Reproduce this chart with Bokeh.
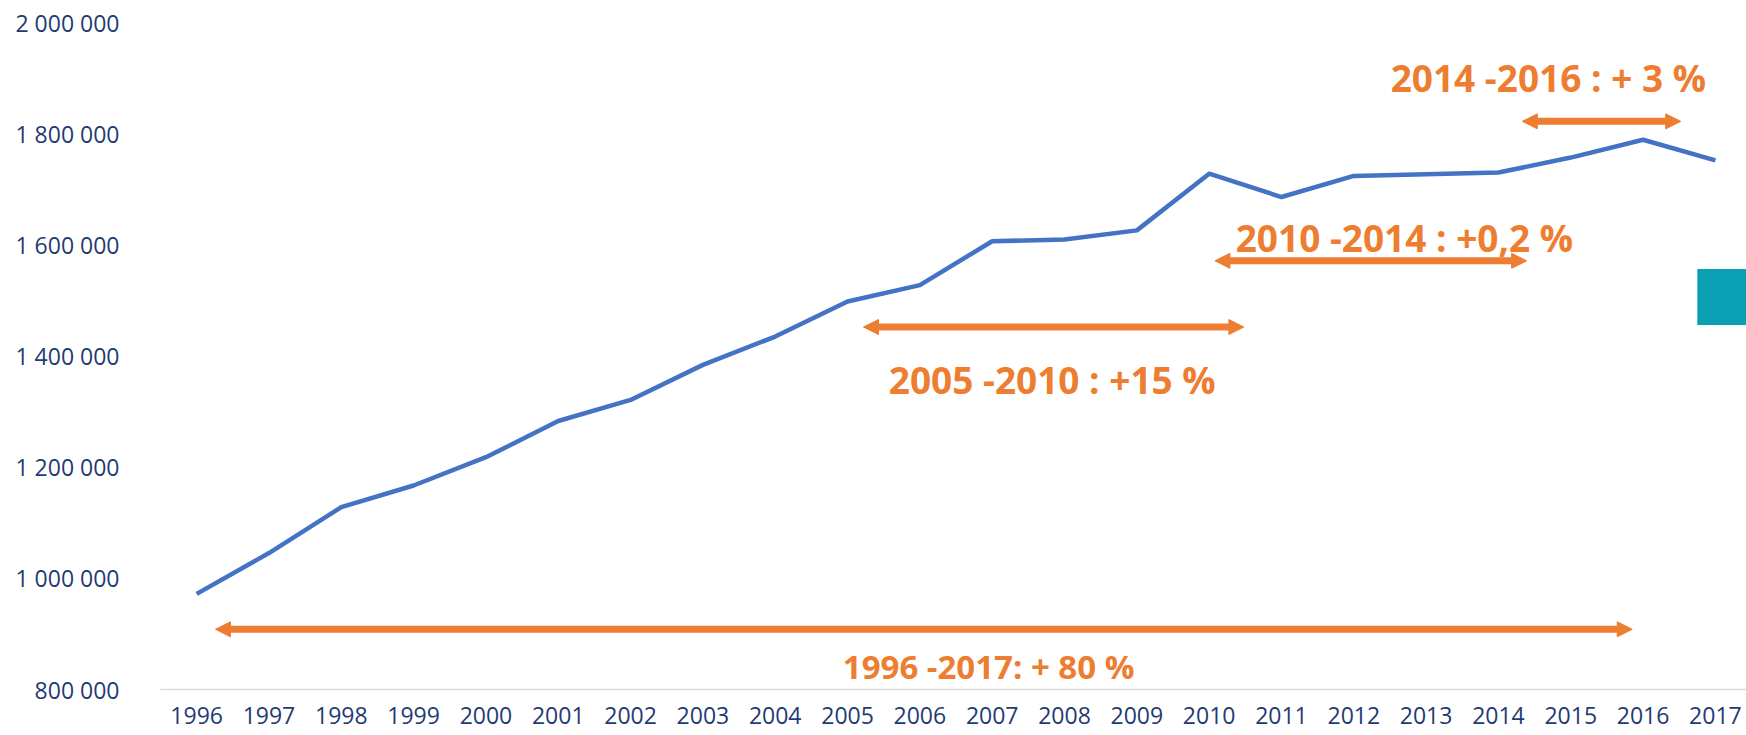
from bokeh.plotting import figure
from bokeh.models import Arrow, NormalHead, Label, FixedTicker, BoxAnnotation, Range1d
from bokeh.embed import file_html
from bokeh.resources import INLINE

# ---- data ----
years = list(range(1996, 2018))
values = [972000, 1045500, 1128000, 1167000, 1218000, 1283000, 1321000, 1384000,
          1435000, 1498000, 1527500, 1606500, 1609500, 1626000, 1728000, 1686000,
          1724000, 1727000, 1730000, 1757000, 1789000, 1752000]
y_ticks = [800000, 1000000, 1200000, 1400000, 1600000, 1800000, 2000000]
y_tick_labels = ["800 000", "1 000 000", "1 200 000", "1 400 000",
                 "1 600 000", "1 800 000", "2 000 000"]

# annotations: period arrows (start, end, level) and their labels (x, y, text)
arrow_x0 = [1996.26, 2005.22, 2010.08, 2014.33]
arrow_x1 = [2015.85, 2010.48, 2014.39, 2016.52]
arrow_y = [908300, 1452100, 1571200, 1822150]
label_x = [2006.95, 2007.83, 2012.70, 2014.69]
label_y = [841800, 1357400, 1612850, 1901700]
label_text = ["1996 -2017: + 80 %", "2005 -2010 : +15 %",
              "2010 -2014 : +0,2 %", "2014 -2016 : + 3 %"]

# styles
label_sizes = ["33px", "37px", "37px", "37px"]
NAVY = "#1F3B73"
ORANGE = "#ED7D31"
BLUE = "#4472C4"

p = figure(width=1746, height=735, output_backend="svg", toolbar_location=None,
           x_range=Range1d(1995.50, 2017.43), y_range=Range1d(800000, 2000000),
           min_border_left=160, min_border_right=0, min_border_top=22,
           min_border_bottom=46)
p.outline_line_color = None
p.background_fill_color = "white"
p.border_fill_color = "white"
p.xgrid.grid_line_color = None
p.ygrid.grid_line_color = None

# decorative teal block at right edge
p.add_layout(BoxAnnotation(left=2016.75, right=2017.6, bottom=1455700, top=1556300,
                           fill_color="#0B9FB3", fill_alpha=1.0, line_color=None))

p.line(years, values, line_color=BLUE, line_width=4.5, line_join="round")

for x0, x1, y in zip(arrow_x0, arrow_x1, arrow_y):
    p.add_layout(Arrow(x_start=x0, x_end=x1, y_start=y, y_end=y,
                       line_color=ORANGE, line_width=7,
                       start=NormalHead(size=15, fill_color=ORANGE, line_color=ORANGE, line_width=1),
                       end=NormalHead(size=15, fill_color=ORANGE, line_color=ORANGE, line_width=1)))

for x, y, t, fs in zip(label_x, label_y, label_text, label_sizes):
    p.add_layout(Label(x=x, y=y, text=t, text_align="center", text_baseline="middle",
                       text_font="Open Sans", text_font_style="bold",
                       text_font_size=fs, text_color=ORANGE))

# x axis
p.xaxis.ticker = FixedTicker(ticks=years)
p.xaxis.axis_line_color = "#D9D9D9"
p.xaxis.axis_line_width = 1.5
p.xaxis.major_tick_line_color = None
p.xaxis.minor_tick_line_color = None
p.xaxis.major_label_text_font = "Open Sans"
p.xaxis.major_label_text_font_size = "23px"
p.xaxis.major_label_text_color = NAVY
p.xaxis.major_label_standoff = 11

# y axis
p.yaxis.ticker = FixedTicker(ticks=y_ticks)
p.yaxis.major_label_overrides = {t: l for t, l in zip(y_ticks, y_tick_labels)}
p.yaxis.axis_line_color = None
p.yaxis.major_tick_line_color = None
p.yaxis.minor_tick_line_color = None
p.yaxis.major_label_text_font = "Open Sans"
p.yaxis.major_label_text_font_size = "23px"
p.yaxis.major_label_text_color = NAVY
p.yaxis.major_label_standoff = 35

open("out.html", "w").write(file_html(p, INLINE))
